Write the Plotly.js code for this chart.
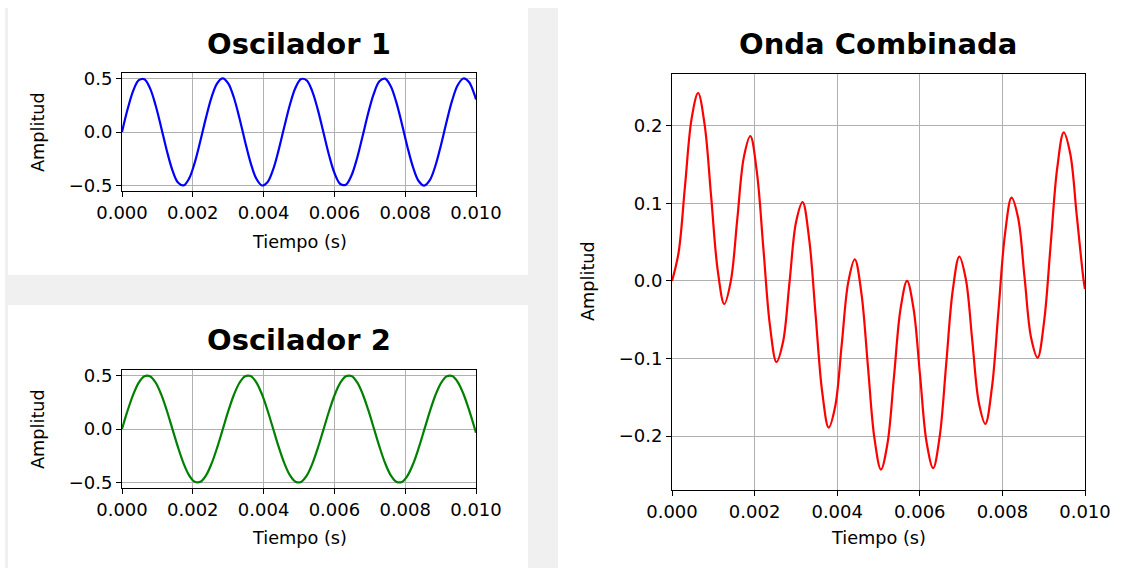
<!DOCTYPE html>
<html>
<head>
<meta charset="utf-8">
<script src="https://cdn.plot.ly/plotly-3.0.1.min.js"></script>
<style>
  html, body { margin: 0; padding: 0; background: #ffffff; }
  #chart { width: 1129px; height: 568px; }
</style>
</head>
<body>
<div id="chart"></div>
<script>
// ---- Data (time samples in seconds) ----
const tiempo = [
  0.000000, 0.000158, 0.000316, 0.000474, 0.000632, 0.000790, 0.000949, 0.001107,
  0.001265, 0.001423, 0.001581, 0.001739, 0.001897, 0.002055, 0.002213, 0.002371,
  0.002529, 0.002688, 0.002846, 0.003004, 0.003162, 0.003320, 0.003478, 0.003636,
  0.003794, 0.003952, 0.004110, 0.004268, 0.004426, 0.004585, 0.004743, 0.004901,
  0.005059, 0.005217, 0.005375, 0.005533, 0.005691, 0.005849, 0.006007, 0.006165,
  0.006324, 0.006482, 0.006640, 0.006798, 0.006956, 0.007114, 0.007272, 0.007430,
  0.007588, 0.007746, 0.007904, 0.008062, 0.008221, 0.008379, 0.008537, 0.008695,
  0.008853, 0.009011, 0.009169, 0.009327, 0.009485, 0.009643, 0.009801, 0.009960,
  0.010000
];

const oscilador1 = [
  0.0000, 0.2115, 0.3832, 0.4831, 0.4923, 0.4091, 0.2492, 0.0425,
  -0.1722, -0.3546, -0.4704, -0.4979, -0.4321, -0.2851, -0.0846, 0.1317,
  0.3234, 0.4543, 0.5000, 0.4519, 0.3190, 0.1262, -0.0903, -0.2898,
  -0.4348, -0.4984, -0.4684, -0.3505, -0.1668, 0.0482, 0.2541, 0.4124,
  0.4933, 0.4816, 0.3795, 0.2063, -0.0057, -0.2166, -0.3870, -0.4845,
  -0.4913, -0.4059, -0.2442, -0.0368, 0.1776, 0.3586, 0.4723, 0.4974,
  0.4292, 0.2804, 0.0790, -0.1372, -0.3277, -0.4567, -0.4999, -0.4494,
  -0.3146, -0.1206, 0.0959, 0.2944, 0.4377, 0.4988, 0.4664, 0.3464,
  0.3040
];

const oscilador2 = [
  0.0000, 0.1709, 0.3212, 0.4328, 0.4923, 0.4925, 0.4335, 0.3222,
  0.1722, 0.0014, -0.1695, -0.3201, -0.4321, -0.4920, -0.4928, -0.4342,
  -0.3234, -0.1736, -0.0029, 0.1682, 0.3190, 0.4313, 0.4918, 0.4930,
  0.4349, 0.3244, 0.1749, 0.0043, -0.1668, -0.3179, -0.4306, -0.4915,
  -0.4933, -0.4356, -0.3255, -0.1762, -0.0057, 0.1655, 0.3168, 0.4299,
  0.4913, 0.4935, 0.4363, 0.3266, 0.1776, 0.0071, -0.1641, -0.3156,
  -0.4292, -0.4910, -0.4937, -0.4370, -0.3277, -0.1789, -0.0086, 0.1628,
  0.3146, 0.4284, 0.4907, 0.4939, 0.4377, 0.3288, 0.1802, 0.0100,
  -0.0345
];

const ondaCombinada = [
  0.0000, 0.0361, 0.1231, 0.2091, 0.2424, 0.2015, 0.1080, 0.0137,
  -0.0297, -0.0005, 0.0797, 0.1594, 0.1867, 0.1403, 0.0417, -0.0572,
  -0.1045, -0.0788, -0.0014, 0.0760, 0.1017, 0.0544, -0.0444, -0.1429,
  -0.1891, -0.1617, -0.0819, -0.0015, 0.0278, -0.0153, -0.1094, -0.2027,
  -0.2433, -0.2098, -0.1235, -0.0363, 0.0000, -0.0358, -0.1225, -0.2083,
  -0.2413, -0.2003, -0.1065, -0.0120, 0.0315, 0.0026, -0.0775, -0.1570,
  -0.1842, -0.1377, -0.0390, 0.0600, 0.1074, 0.0817, 0.0043, -0.0732,
  -0.0989, -0.0517, 0.0470, 0.1454, 0.1916, 0.1640, 0.0841, 0.0035,
  -0.0105
];

const titulos = ["Oscilador 1", "Oscilador 2", "Onda Combinada"];
const etiquetaX = "Tiempo (s)";
const etiquetaY = "Amplitud";

// ---- Layout helpers (pixel -> paper) ----
const W = 1129, H = 568;
const px = v => v / W;
const py = v => 1 - v / H;

const FONT = "DejaVu Sans, Liberation Sans, sans-serif";
const TICK_SIZE = 18;
const LABEL_SIZE = 17.7;
const TITLE_SIZE = 29;

function xAxis(domain, anchor) {
  return {
    domain: domain, anchor: anchor, range: [0, 0.01],
    tick0: 0, dtick: 0.002, tickformat: ".3f",
    ticks: "outside", ticklen: 5, tickwidth: 1, tickcolor: "#000",
    showline: true, linecolor: "#000", linewidth: 1, mirror: true,
    showgrid: true, gridcolor: "#b0b0b0", gridwidth: 1,
    zeroline: false, fixedrange: true,
    tickfont: { family: FONT, size: TICK_SIZE, color: "#000" }
  };
}
function yAxis(domain, anchor, range, dtick) {
  return {
    domain: domain, anchor: anchor, range: range,
    tick0: 0, dtick: dtick, tickformat: ".1f",
    ticks: "outside", ticklen: 5, tickwidth: 1, tickcolor: "#000",
    showline: true, linecolor: "#000", linewidth: 1, mirror: true,
    showgrid: true, gridcolor: "#b0b0b0", gridwidth: 1,
    zeroline: false, fixedrange: true,
    tickfont: { family: FONT, size: TICK_SIZE, color: "#000" }
  };
}

const traces = [
  { x: tiempo, y: oscilador1, xaxis: "x", yaxis: "y", type: "scatter", mode: "lines",
    line: { color: "#0000ff", width: 2.2, shape: "spline", smoothing: 1 }, hoverinfo: "skip" },
  { x: tiempo, y: oscilador2, xaxis: "x2", yaxis: "y2", type: "scatter", mode: "lines",
    line: { color: "#008000", width: 2.2, shape: "spline", smoothing: 1 }, hoverinfo: "skip" },
  { x: tiempo, y: ondaCombinada, xaxis: "x3", yaxis: "y3", type: "scatter", mode: "lines",
    line: { color: "#ff0000", width: 2.2, shape: "spline", smoothing: 1 }, hoverinfo: "skip" }
];

function title(text, x, y) {
  return { text: text, xref: "paper", yref: "paper", x: px(x), y: py(y),
    xanchor: "center", yanchor: "middle", showarrow: false,
    font: { family: FONT, size: TITLE_SIZE, color: "#000", weight: "bold" } };
}
function label(text, x, y, rot) {
  return { text: text, xref: "paper", yref: "paper", x: px(x), y: py(y),
    xanchor: "center", yanchor: "middle", showarrow: false, textangle: rot || 0,
    font: { family: FONT, size: LABEL_SIZE, color: "#000" } };
}

const GREY = "#f0f0f0";
const layout = {
  width: W, height: H,
  margin: { l: 0, r: 0, t: 0, b: 0 },
  paper_bgcolor: "#ffffff", plot_bgcolor: "#ffffff",
  showlegend: false,
  xaxis: xAxis([px(122), px(476)], "y"),
  yaxis: yAxis([py(191), py(73)], "x", [-0.55, 0.55], 0.5),
  xaxis2: xAxis([px(122), px(476)], "y2"),
  yaxis2: yAxis([py(488), py(370)], "x2", [-0.55, 0.55], 0.5),
  xaxis3: xAxis([px(672), px(1085)], "y3"),
  yaxis3: yAxis([py(490), py(74)], "x3", [-0.2696, 0.2669], 0.1),
  shapes: [
    { type: "rect", xref: "paper", yref: "paper", layer: "below",
      x0: px(5), x1: px(8), y0: 0, y1: py(8), fillcolor: GREY, line: { width: 0 } },
    { type: "rect", xref: "paper", yref: "paper", layer: "below",
      x0: px(528), x1: px(558), y0: 0, y1: py(8), fillcolor: GREY, line: { width: 0 } },
    { type: "rect", xref: "paper", yref: "paper", layer: "below",
      x0: px(5), x1: px(528), y0: py(305), y1: py(275), fillcolor: GREY, line: { width: 0 } }
  ],
  annotations: [
    title(titulos[0], 299, 44),
    title(titulos[1], 299, 340),
    title(titulos[2], 878, 44),
    label(etiquetaX, 299, 242),
    label(etiquetaX, 299, 538),
    label(etiquetaX, 878, 538),
    label(etiquetaY, 38, 132, -90),
    label(etiquetaY, 38, 429, -90),
    label(etiquetaY, 588, 281, -90)
  ]
};

Plotly.newPlot("chart", traces, layout, { displayModeBar: false, staticPlot: true });
</script>
</body>
</html>
